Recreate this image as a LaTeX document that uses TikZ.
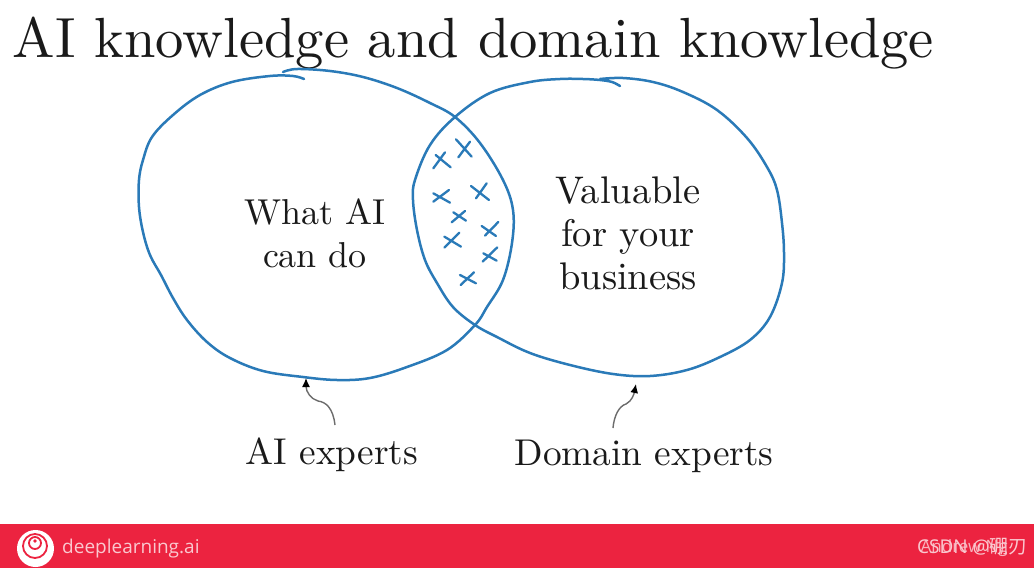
\documentclass[tikz,border=0pt]{standalone}
\usepackage{fontspec}
\usetikzlibrary{arrows.meta}
\setmainfont{lmroman10-regular.otf}
\newfontfamily\footfont{Open Sans}
\newfontfamily\cjk{Noto Sans CJK SC}
\definecolor{blobblue}{HTML}{2A7AB8}
\definecolor{barred}{HTML}{EC2340}
\definecolor{ink}{HTML}{1A1A1A}
\tikzset{
 blob/.style={draw=blobblue,line width=2.5pt,line cap=round,line join=round},
 crossmark/.style={draw=blobblue,line width=2.3pt,line cap=round},
 lbl/.style={text=ink,font=\fontsize{36}{43}\selectfont,align=center,inner sep=0pt},
 pointer/.style={draw=gray!85!black,line width=1.4pt,-{Latex[length=9pt,width=8pt,color=black]}}
}
\newcommand{\xmark}[8]{\draw[crossmark] (#1,#2) -- (#3,#4) (#5,#6) -- (#7,#8);}
\begin{document}
\begin{tikzpicture}[x=1pt,y=-1pt]
\useasboundingbox (0,0) rectangle (1034,568);
\fill[white] (0,0) rectangle (1034,568);
\fill[barred] (0,524) rectangle (1034,568);
\node[anchor=base west,inner sep=0pt,text=ink,font=\fontsize{56.6}{60}\selectfont] (title) at (12.5,57) {AI knowledge and domain knowledge};
\draw[blob] plot[smooth,tension=0.6] coordinates {(283,72)(297,69)(330,71)(363,77)(397,88)(430,103)(455,117)(480,143)(503,180)(513,210)(512,243)(503,280)(487,307)(475,325)(447,350)(407,367)(370,378)(337,380)(303,377)(263,371)(230,358)(207,342)(187,320)(173,298)(161,275)(150,255)(143,232)(139,207)(139,180)(143,160)(152,137)(173,115)(200,95)(232,82)(270,76)(293,76)(304,79)};
\draw[blob] plot[smooth,tension=0.6] coordinates {(620,86)(612,82)(600,80)(583,79)(560,79)(530,82)(490,93)(455,117)(430,145)(415,180)(413,200)(417,230)(425,260)(437,283)(453,307)(475,325)(497,337)(530,353)(570,365)(613,374)(650,376)(687,370)(720,357)(750,340)(770,317)(782,283)(784,253)(782,223)(777,190)(767,167)(747,138)(717,110)(683,92)(653,82)(623,78)(600,79)};
\begin{scope}[shift={(400,100)},x=0.3333pt,y=-0.3333pt]
\xmark{100}{205}{135}{157}{107}{165}{152}{202}
\xmark{175}{172}{210}{125}{168}{118}{215}{170}
\xmark{100}{305}{147}{270}{100}{280}{150}{308}
\xmark{228}{295}{260}{250}{213}{258}{267}{300}
\xmark{155}{367}{195}{333}{160}{337}{198}{362}
\xmark{133}{443}{178}{398}{133}{410}{183}{440}
\xmark{245}{378}{288}{408}{255}{407}{295}{366}
\xmark{248}{485}{292}{442}{250}{460}{290}{482}
\xmark{182}{555}{222}{517}{180}{525}{228}{550}
\end{scope}
\node[lbl] (what) at (315,233) {What AI\\can do};
\node[lbl,font=\fontsize{38.5}{43}\selectfont] (valuable) at (628,233) {Valuable\\for your\\business};
\node[lbl,font=\fontsize{37.3}{43}\selectfont] (aiexp) at (332,455) {AI experts};
\node[lbl,font=\fontsize{37.3}{43}\selectfont] (domexp) at (644,456) {Domain experts};
\coordinate (aitip) at (306,378);
\coordinate (aitail) at (335,425);
\coordinate (domtip) at (636,384);
\coordinate (domtail) at (613,428);
\draw[pointer] (aitail) .. controls (333,408) and (326,402) .. (318,401) .. controls (311,399) and (306,392) .. (aitip);
\draw[pointer] (domtail) .. controls (614,416) and (619,406) .. (626,404) .. controls (632,401) and (634,394) .. (domtip);
% logo
\fill[white] (35.5,548.5) circle (18.5);
\draw[barred,line width=1.8pt] (35,546) circle (12);
\draw[barred,line width=1.8pt] (35,543) circle (6);
\fill[barred] (35,541) circle (1.8);
\node[anchor=west,inner sep=0pt,text=white!75!barred,font=\footfont\fontsize{19}{22}\selectfont] (brand) at (62,549) {deeplearning.ai};
\node[anchor=east,inner sep=0pt,text=white!65!barred,font=\footfont\fontsize{17}{20}\selectfont] (andrew) at (1008,548) {Andrew Ng};
\node[anchor=east,inner sep=0pt,text=white!75!barred,font=\fontsize{19}{22}\selectfont] (csdn) at (1028,547) {\footfont CSDN @\cjk 硼刃};
\end{tikzpicture}
\end{document}
